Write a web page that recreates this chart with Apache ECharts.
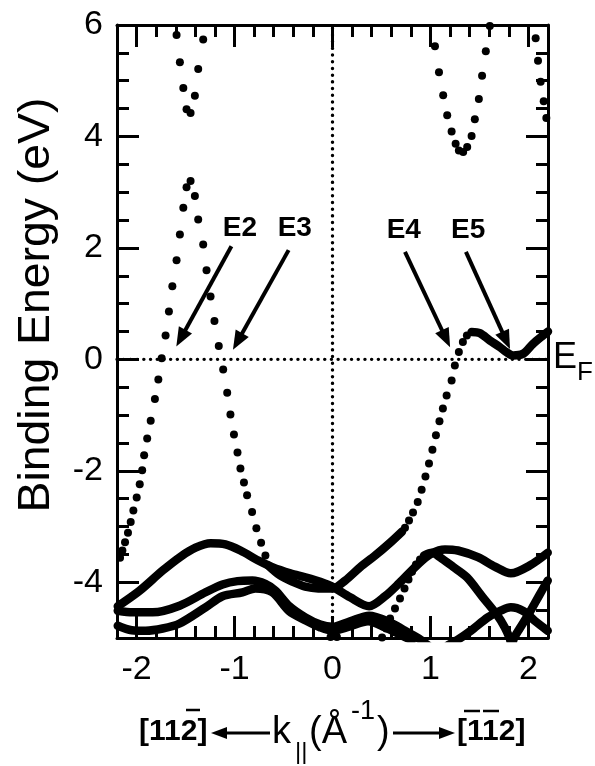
<!DOCTYPE html>
<html>
<head>
<meta charset="utf-8">
<script src="https://cdn.jsdelivr.net/npm/echarts@6/dist/echarts.min.js"></script>
<style>
  html, body { margin: 0; padding: 0; background: #fff; }
  #chart { width: 595px; height: 766px; }
</style>
</head>
<body>
<div id="chart"></div>
<script>
// ---- axis ticks ----
const kMajorTicks = [-2, -1, 0, 1, 2];
const eMajorTicks = [-4, -2, 0, 2, 4, 6];

// ---- calculated bands drawn as separate points (k, E) ----
const bandE2 = [
  [-2.169, -3.56], [-2.145, -3.43], [-2.118, -3.28], [-2.088, -3.11], [-2.060, -2.92],
  [-2.033, -2.71], [-1.999, -2.48], [-1.968, -2.24], [-1.943, -1.99], [-1.923, -1.72],
  [-1.892, -1.42], [-1.856, -1.10], [-1.813, -0.71], [-1.778, -0.36], [-1.744, 0.02],
  [-1.704, 0.43], [-1.670, 0.86], [-1.635, 1.31], [-1.592, 1.78], [-1.558, 2.24],
  [-1.523, 2.72], [-1.490, 3.09], [-1.449, 3.20]
];
const bandE3 = [
  [-1.405, 2.93], [-1.371, 2.51], [-1.320, 2.06], [-1.286, 1.60], [-1.245, 1.13],
  [-1.205, 0.69], [-1.161, 0.24], [-1.116, -0.18], [-1.075, -0.60], [-1.042, -0.99],
  [-1.006, -1.35], [-0.970, -1.67], [-0.940, -1.96], [-0.904, -2.21], [-0.872, -2.44],
  [-0.821, -2.74], [-0.777, -3.03], [-0.729, -3.29], [-0.685, -3.52]
];
const bandTopLeft = [
  [-1.592, 5.82], [-1.558, 5.33], [-1.523, 4.87], [-1.490, 4.49], [-1.449, 4.42],
  [-1.405, 4.73], [-1.371, 5.21], [-1.320, 5.74]
];
const bandTopRight = [
  [1.046, 5.62], [1.087, 5.15], [1.130, 4.74], [1.171, 4.38], [1.216, 4.09],
  [1.257, 3.87], [1.290, 3.75], [1.334, 3.72], [1.375, 3.81], [1.420, 4.01],
  [1.453, 4.31], [1.494, 4.67], [1.527, 5.09], [1.565, 5.53], [1.606, 5.98]
];
const bandTopEdge = [
  [2.074, 5.76], [2.098, 5.36], [2.125, 4.98], [2.156, 4.63], [2.183, 4.33]
];
const bandE4 = [
  [0.740, -3.02], [0.781, -2.89], [0.822, -2.75], [0.870, -2.56], [0.910, -2.34],
  [0.949, -2.10], [0.985, -1.87], [1.020, -1.62], [1.056, -1.36], [1.092, -1.11],
  [1.127, -0.88], [1.165, -0.65], [1.216, -0.38], [1.249, -0.11], [1.290, 0.13],
  [1.331, 0.31], [1.372, 0.43]
];
const bandCapRise = [
  [0.506, -4.99], [0.547, -4.83], [0.588, -4.65], [0.638, -4.47], [0.689, -4.29],
  [0.735, -4.11], [0.776, -3.95], [0.812, -3.81], [0.852, -3.68], [0.893, -3.59]
];
const bandGammaFloor = [[-0.020, -4.98], [0.045, -4.98]];

// ---- densely sampled bands, drawn as thick curves (k, E) ----
const curveA = [
  [-2.192, -4.43], [-1.968, -4.15], [-1.734, -3.79], [-1.551, -3.54], [-1.398, -3.38],
  [-1.245, -3.30], [-1.093, -3.32], [-0.940, -3.43], [-0.757, -3.61], [-0.614, -3.73],
  [-0.431, -3.84], [-0.278, -3.91], [-0.125, -3.99], [0.000, -4.08], [0.180, -4.27],
  [0.374, -4.43], [0.537, -4.25], [0.679, -4.02], [0.883, -3.66], [1.015, -3.48],
  [1.148, -3.41], [1.280, -3.43], [1.484, -3.55], [1.657, -3.72], [1.820, -3.84],
  [2.013, -3.70], [2.197, -3.47]
];
const curveB = [
  [-2.192, -4.51], [-2.040, -4.54], [-1.836, -4.54], [-1.561, -4.42], [-1.296, -4.18],
  [-1.123, -4.04], [-0.970, -3.98], [-0.818, -3.97], [-0.685, -4.03], [-0.583, -4.15],
  [-0.441, -4.43], [-0.278, -4.63], [-0.125, -4.76], [0.000, -4.80], [0.180, -4.70],
  [0.374, -4.60], [0.588, -4.72], [0.740, -4.87], [0.883, -5.01], [0.975, -5.13]
];
const curveC = [
  [-2.192, -4.78], [-2.050, -4.86], [-1.908, -4.87], [-1.734, -4.83], [-1.561, -4.74],
  [-1.296, -4.45], [-1.123, -4.25], [-0.920, -4.18], [-0.787, -4.11], [-0.614, -4.18],
  [-0.441, -4.52], [-0.268, -4.69], [-0.125, -4.81], [0.000, -4.87], [0.180, -4.79],
  [0.363, -4.70], [0.537, -4.81], [0.689, -4.94], [0.811, -5.04]
];
const curveValley = [
  [-0.655, -3.70], [-0.533, -3.88], [-0.410, -3.99], [-0.278, -4.08], [-0.146, -4.11],
  [0.000, -4.11], [0.129, -3.97], [0.282, -3.73], [0.435, -3.52], [0.588, -3.29],
  [0.710, -3.09]
];
const curveWave = [
  [1.420, 0.49], [1.504, 0.47], [1.606, 0.34], [1.708, 0.22], [1.776, 0.13],
  [1.843, 0.07], [1.945, 0.10], [2.047, 0.28], [2.149, 0.43], [2.200, 0.50]
];
const curveE = [
  [0.934, -3.52], [1.015, -3.47], [1.097, -3.55], [1.229, -3.72], [1.372, -3.91],
  [1.535, -4.27], [1.677, -4.58], [1.759, -4.81], [1.810, -5.01], [1.830, -5.13],
  [1.851, -5.01], [1.911, -4.83], [2.013, -4.54], [2.115, -4.22], [2.197, -3.97]
];
const curveF = [
  [1.178, -5.13], [1.280, -5.03], [1.412, -4.87], [1.586, -4.63], [1.718, -4.51],
  [1.820, -4.45], [1.952, -4.52], [2.064, -4.69], [2.197, -4.87]
];

// ---- Fermi-level crossings marked by arrows ----
const crossingNames = ['E2', 'E3', 'E4', 'E5'];
const crossingLabelAt = [[-0.945, 2.35], [-0.385, 2.35], [0.728, 2.32], [1.385, 2.32]];
const arrowFrom = [[-1.032, 2.03], [-0.448, 1.96], [0.740, 1.93], [1.362, 1.93]];
const arrowTo = [[-1.548, 0.38], [-0.969, 0.32], [1.159, 0.37], [1.772, 0.34]];

const kRange = [-2.2, 2.2];
const eRange = [-5, 6];

const FONT = '"Liberation Sans", Arial, Helvetica, sans-serif';
const BLACK = '#000';

const chart = echarts.init(document.getElementById('chart'), null, { renderer: 'canvas' });

function frameAxis(kind, position, withLine, tickLen, custom, labels) {
  const range = kind === 'x' ? kRange : eRange;
  const ax = {
    type: 'value',
    min: range[0],
    max: range[1],
    position: position,
    splitLine: { show: false },
    axisLine: { show: withLine, onZero: false, lineStyle: { color: BLACK, width: 3 } },
    axisTick: { show: true, inside: true, length: tickLen, lineStyle: { color: BLACK, width: 3 } },
    axisLabel: { show: false },
    axisPointer: { show: false }
  };
  if (custom) {
    ax.axisTick.customValues = custom;
    if (labels) {
      ax.axisLabel = {
        show: true,
        customValues: custom,
        color: BLACK,
        fontFamily: FONT,
        fontSize: 34,
        margin: kind === 'x' ? 15 : 14,
        formatter: v => String(v)
      };
    }
  } else {
    ax.interval = kind === 'x' ? 0.2 : 0.5;
  }
  return ax;
}

function dots(name, data) {
  return {
    name, type: 'scatter', data,
    symbol: 'circle', symbolSize: 8,
    itemStyle: { color: BLACK, opacity: 1 },
    silent: true, z: 4
  };
}

function band(name, data) {
  return {
    name, type: 'line', data,
    smooth: 0.3, showSymbol: false, symbol: 'none',
    lineStyle: { color: BLACK, width: 8.5, cap: 'round', join: 'round', opacity: 1 },
    silent: true, z: 4
  };
}

function refLine(name, data) {
  return {
    name, type: 'line', data,
    showSymbol: false, symbol: 'none',
    lineStyle: { color: BLACK, width: 3.4, type: [0.1, 6.6], cap: 'round', opacity: 1 },
    silent: true, z: 2
  };
}

const arrowPairs = arrowFrom.map((p, i) => [{ coord: p }, { coord: arrowTo[i] }]);

const option = {
  animation: false,
  backgroundColor: '#fff',
  grid: { left: 117, top: 25, width: 431, height: 613, containLabel: false, outerBoundsMode: 'none' },
  xAxis: [
    frameAxis('x', 'bottom', true, 12, null, false),
    frameAxis('x', 'bottom', false, 22, kMajorTicks, true),
    frameAxis('x', 'top', true, 12, null, false),
    frameAxis('x', 'top', false, 22, kMajorTicks, false)
  ],
  yAxis: [
    frameAxis('y', 'left', true, 12, null, false),
    frameAxis('y', 'left', false, 22, eMajorTicks, true),
    frameAxis('y', 'right', true, 12, null, false),
    frameAxis('y', 'right', false, 22, eMajorTicks, false)
  ],
  series: [
    refLine('Fermi level', [[kRange[0], 0], [kRange[1], 0]]),
    refLine('Gamma', [[0, eRange[0]], [0, eRange[1]]]),
    dots('E2 band', bandE2),
    dots('E3 band', bandE3),
    dots('upper left', bandTopLeft),
    dots('upper right', bandTopRight),
    dots('upper edge', bandTopEdge),
    dots('E4 band', bandE4),
    dots('cap rise', bandCapRise),
    dots('gamma floor', bandGammaFloor),
    band('A', curveA),
    band('B', curveB),
    band('C', curveC),
    band('valley', curveValley),
    band('E4-E5', curveWave),
    band('E', curveE),
    band('F', curveF),
    {
      name: 'crossings',
      type: 'scatter',
      data: crossingLabelAt.map((p, i) => ({ value: p, name: crossingNames[i] })),
      symbolSize: 1,
      itemStyle: { color: 'rgba(0,0,0,0)', opacity: 1 },
      label: {
        show: true, position: 'inside', formatter: '{b}',
        color: BLACK, opacity: 1, fontFamily: FONT, fontWeight: 'bold', fontSize: 28
      },
      silent: true, z: 5,
      markLine: {
        silent: true,
        symbol: ['none', 'triangle'],
        symbolSize: [15, 19],
        lineStyle: { color: BLACK, width: 4, type: 'solid', opacity: 1 },
        itemStyle: { color: BLACK, opacity: 1 },
        label: { show: false },
        emphasis: { disabled: true },
        data: arrowPairs
      }
    }
  ],
  graphic: [
    {
      type: 'text', x: 37, y: 305, rotation: Math.PI / 2, scaleX: 1.03,
      style: {
        text: 'Binding Energy (eV)', fill: BLACK,
        font: '45px ' + FONT, align: 'center', verticalAlign: 'middle'
      }
    },
    { type: 'text', x: 553, y: 358, style: { text: 'E', fill: BLACK, font: '36px ' + FONT, align: 'left', verticalAlign: 'middle' } },
    { type: 'text', x: 577, y: 373, style: { text: 'F', fill: BLACK, font: '26px ' + FONT, align: 'left', verticalAlign: 'middle' } },

    // k-axis title with crystal directions
    { type: 'text', x: 139, y: 732, style: { text: '[112]', fill: BLACK, font: 'bold 30px ' + FONT, align: 'left', verticalAlign: 'middle' } },
    { type: 'line', shape: { x1: 186, y1: 710, x2: 200, y2: 710 }, style: { stroke: BLACK, lineWidth: 2.5 } },
    { type: 'line', shape: { x1: 224, y1: 733, x2: 270, y2: 733 }, style: { stroke: BLACK, lineWidth: 3 } },
    { type: 'polygon', shape: { points: [[211, 733], [227, 727], [227, 739]] }, style: { fill: BLACK } },
    { type: 'text', x: 272, y: 733, style: { text: 'k', fill: BLACK, font: '38px ' + FONT, align: 'left', verticalAlign: 'middle' } },
    { type: 'text', x: 295, y: 752, style: { text: '||', fill: BLACK, font: '24px ' + FONT, align: 'left', verticalAlign: 'middle' } },
    { type: 'text', x: 309, y: 733, style: { text: '(Å', fill: BLACK, font: '38px ' + FONT, align: 'left', verticalAlign: 'middle' } },
    { type: 'text', x: 351, y: 712, style: { text: '-1', fill: BLACK, font: '27px ' + FONT, align: 'left', verticalAlign: 'middle' } },
    { type: 'text', x: 377, y: 733, style: { text: ')', fill: BLACK, font: '38px ' + FONT, align: 'left', verticalAlign: 'middle' } },
    { type: 'line', shape: { x1: 393, y1: 733, x2: 441, y2: 733 }, style: { stroke: BLACK, lineWidth: 3 } },
    { type: 'polygon', shape: { points: [[455, 733], [439, 727], [439, 739]] }, style: { fill: BLACK } },
    { type: 'text', x: 457, y: 732, style: { text: '[112]', fill: BLACK, font: 'bold 30px ' + FONT, align: 'left', verticalAlign: 'middle' } },
    { type: 'line', shape: { x1: 464, y1: 711, x2: 480, y2: 711 }, style: { stroke: BLACK, lineWidth: 2.5 } },
    { type: 'line', shape: { x1: 483, y1: 711, x2: 499, y2: 711 }, style: { stroke: BLACK, lineWidth: 2.5 } }
  ]
};

chart.setOption(option);
</script>
</body>
</html>
